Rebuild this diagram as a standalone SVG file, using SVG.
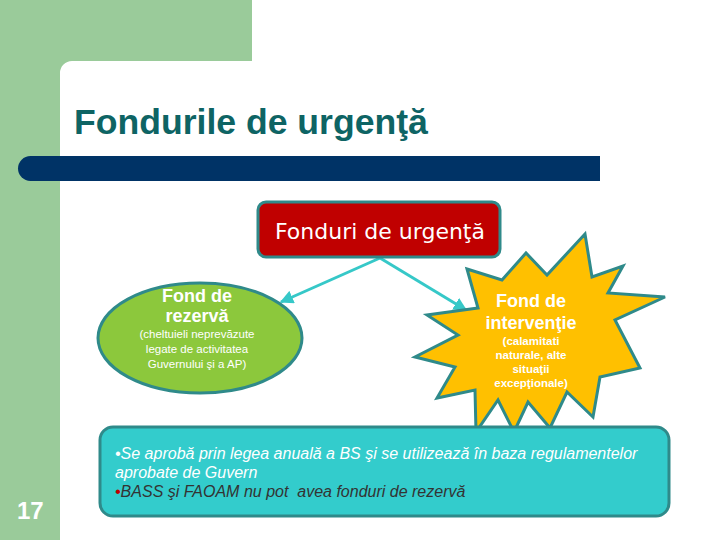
<svg xmlns="http://www.w3.org/2000/svg" width="720" height="540" viewBox="0 0 720 540">
  <defs>
    <style>
      .bg { fill: #9ACB9A; }
      .teal { stroke: #2F8A8A; stroke-width: 3; }
      .conn { stroke: #36C8C8; stroke-width: 3; fill: none; }
      .sans { font-family: "Liberation Sans", Arial, sans-serif; }
      .big { font-size: 18px; font-weight: bold; fill: #FFFFFF; text-anchor: middle; }
      .small { font-size: 11.5px; fill: #FFFFFF; text-anchor: middle; }
      .bold { font-weight: bold; }
      .note { font-size: 16px; font-style: italic; }
    </style>
    <marker id="arr" viewBox="0 0 10 10" refX="9" refY="5" markerWidth="4.5" markerHeight="4.5" orient="auto" markerUnits="strokeWidth">
      <path d="M0,0 L10,5 L0,10 Z" fill="#36C8C8"/>
    </marker>
  </defs>

  <rect x="0" y="0" width="720" height="540" fill="#FFFFFF"/>

  <g id="background">
    <rect class="bg" x="0" y="0" width="252" height="61"/>
    <rect class="bg" x="0" y="0" width="60" height="540"/>
    <path d="M60,61 H72 A12,12 0 0 0 60,73 Z" class="bg"/>
    <path d="M600,156 H30.5 A12.5,12.5 0 0 0 30.5,181 H600 Z" fill="#003366"/>
    <text class="sans" x="74" y="134" font-size="35.6" font-weight="bold" fill="#0E6464">Fondurile de urgenţă</text>
    <text class="sans" x="17" y="519" font-size="24" font-weight="bold" fill="#FFFFFF">17</text>
  </g>

  <g id="connectors">
    <line class="conn" x1="380" y1="258" x2="281" y2="302" marker-end="url(#arr)"/>
    <line class="conn" x1="380" y1="258" x2="466" y2="310" marker-end="url(#arr)"/>
  </g>

  <g id="node-root">
    <rect class="teal" x="258" y="202" width="242" height="55" rx="8" fill="#C00000"/>
    <text x="380" y="239" font-family="DejaVu Sans, sans-serif" font-size="22" fill="#FFFFFF" text-anchor="middle">Fonduri de urgenţă</text>
  </g>

  <g id="node-rezerva">
    <ellipse class="teal" cx="200" cy="338" rx="102" ry="55" fill="#8CC83C"/>
    <text class="sans big" x="197" y="302">Fond de</text>
    <text class="sans big" x="197" y="322">rezervă</text>
    <text class="sans small" x="197" y="338">(cheltuieli neprevăzute</text>
    <text class="sans small" x="197" y="353">legate de activitatea</text>
    <text class="sans small" x="197" y="368">Guvernului şi a AP)</text>
  </g>

  <g id="node-interventie">
    <polygon class="teal" fill="#FFC000" points="467,269 502,280 526,253 547,275 585,234 592,277 623,266 608,293 665,297 615,320 640,368 600,377 593,417 567,392 550,428 528,402 514,432 498,400 476,432 475,390 437,398 455,367 415,357 458,335 427,315 478,308"/>
    <text class="sans big" x="531" y="307">Fond de</text>
    <text class="sans big" x="531" y="329">intervenţie</text>
    <text class="sans small bold" x="531" y="345">(calamitati</text>
    <text class="sans small bold" x="531" y="359">naturale, alte</text>
    <text class="sans small bold" x="531" y="373">situaţii</text>
    <text class="sans small bold" x="531" y="387">excepţionale)</text>
  </g>

  <g id="node-note">
    <rect class="teal" x="100" y="427" width="569" height="89" rx="13" fill="#33CCCC"/>
    <text class="sans note" x="115" y="459" fill="#FFFFFF">•Se aprobă prin legea anuală a BS şi se utilizează în baza regulamentelor</text>
    <text class="sans note" x="115" y="478" fill="#FFFFFF">aprobate de Guvern</text>
    <text class="sans note" x="115" y="497" fill="#333333" xml:space="preserve"><tspan fill="#C00000">•</tspan>BASS şi FAOAM nu pot  avea fonduri de rezervă</text>
  </g>
</svg>
